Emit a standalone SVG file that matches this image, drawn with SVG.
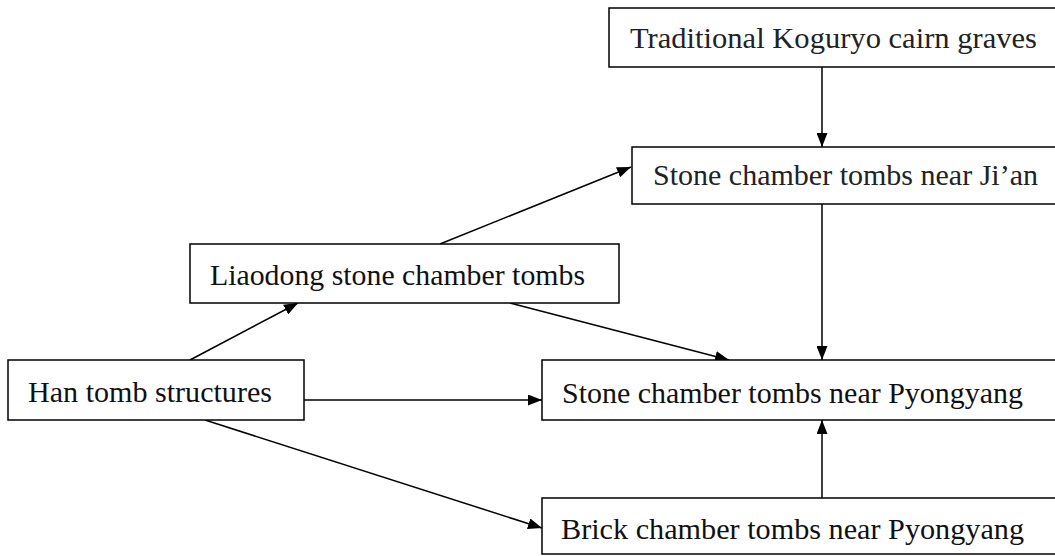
<svg xmlns="http://www.w3.org/2000/svg" width="1055" height="556" viewBox="0 0 1055 556">
<defs>
<marker id="ah" markerWidth="14" markerHeight="11" refX="14" refY="5.5" orient="auto" markerUnits="userSpaceOnUse">
<path d="M0,0 L14,5.5 L0,11 Z" fill="#000"/>
</marker>
<style>
.box{fill:#fff;stroke:#000;stroke-width:1.5}
.t{font-family:"Liberation Serif","Times New Roman",serif;font-size:30px;fill:#111}
.c{font-family:"Liberation Serif","Times New Roman",serif;font-size:29px;fill:#222}
.e{stroke:#000;stroke-width:1.5;fill:none;marker-end:url(#ah)}
</style>
</defs>
<rect width="1055" height="556" fill="#fff"/>
<g id="connectors">
<line class="e" x1="822" y1="67" x2="822" y2="147"/>
<line class="e" x1="440" y1="244" x2="631" y2="167"/>
<line class="e" x1="190" y1="360" x2="298" y2="303"/>
<line class="e" x1="510" y1="303" x2="729" y2="360"/>
<line class="e" x1="822" y1="204" x2="822" y2="360"/>
<line class="e" x1="304" y1="400" x2="542" y2="400"/>
<line class="e" x1="205" y1="420" x2="542" y2="528"/>
<line class="e" x1="822" y1="498" x2="822" y2="420"/>
</g>
<g id="n-koguryo">
<rect class="box" x="609" y="8" width="460" height="59"/>
<text class="c" x="630" y="48" textLength="407" lengthAdjust="spacingAndGlyphs">Traditional Koguryo cairn graves</text>
</g>
<g id="n-jian">
<rect class="box" x="632" y="147" width="440" height="57"/>
<text class="c" x="653" y="185" textLength="385" lengthAdjust="spacingAndGlyphs">Stone chamber tombs near Ji’an</text>
</g>
<g id="n-liaodong">
<rect class="box" x="190" y="244" width="429" height="59"/>
<text class="t" x="210" y="285" textLength="375" lengthAdjust="spacingAndGlyphs">Liaodong stone chamber tombs</text>
</g>
<g id="n-han">
<rect class="box" x="8" y="360" width="296" height="60"/>
<text class="t" x="28" y="402" textLength="244" lengthAdjust="spacingAndGlyphs">Han tomb structures</text>
</g>
<g id="n-pyongyang-stone">
<rect class="box" x="542" y="360" width="530" height="60"/>
<text class="t" x="562" y="403" textLength="461" lengthAdjust="spacingAndGlyphs">Stone chamber tombs near Pyongyang</text>
</g>
<g id="n-pyongyang-brick">
<rect class="box" x="542" y="498" width="530" height="56"/>
<text class="t" x="561" y="539" textLength="463" lengthAdjust="spacingAndGlyphs">Brick chamber tombs near Pyongyang</text>
</g>
</svg>
